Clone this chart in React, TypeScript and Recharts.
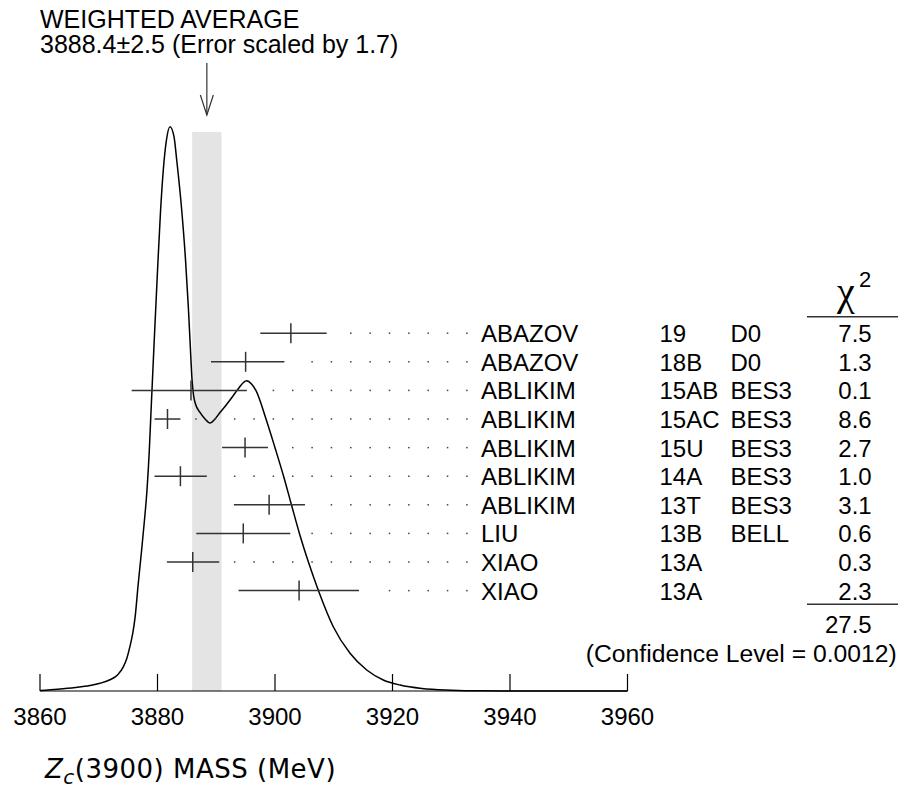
import React from 'react';
import {
  ComposedChart,
  Line,
  Scatter,
  XAxis,
  YAxis,
  ReferenceArea,
  ReferenceLine,
  ErrorBar,
} from 'recharts';

// ---------------- data ----------------
const authors = ['ABAZOV', 'ABAZOV', 'ABLIKIM', 'ABLIKIM', 'ABLIKIM', 'ABLIKIM', 'ABLIKIM', 'LIU', 'XIAO', 'XIAO'];
const refs = ['19', '18B', '15AB', '15AC', '15U', '14A', '13T', '13B', '13A', '13A'];
const experiments = ['D0', 'D0', 'BES3', 'BES3', 'BES3', 'BES3', 'BES3', 'BELL', '', ''];
const masses = [3902.7, 3895.0, 3885.7, 3881.7, 3894.9, 3883.9, 3899.0, 3894.6, 3886.0, 3904.1];
const errLow = [5.2, 5.9, 10.1, 2.2, 3.9, 4.4, 6.0, 8.0, 4.4, 10.3];
const errHigh = [6.1, 6.6, 9.5, 2.2, 3.9, 4.5, 6.1, 8.0, 4.5, 10.2];
const chiSquares = ['7.5', '1.3', '0.1', '8.6', '2.7', '1.0', '3.1', '0.6', '0.3', '2.3'];
const chiSquareTotal = '27.5';
const confidenceLevel = '0.0012';

const averageValue = 3888.4;
const averageError = 2.5;
const errorScale = 1.7;

const massTicks = [3860, 3880, 3900, 3920, 3940, 3960];

// ideogram curve (relative height)
const curveMass = [
  3860.0, 3863.0, 3866.0, 3868.5, 3870.2, 3872.0, 3873.2, 3874.2, 3874.8, 3875.3,
  3875.8, 3876.2, 3876.7, 3877.3, 3877.8, 3878.2, 3878.6, 3878.9, 3879.4, 3880.0,
  3880.5, 3881.0, 3881.5, 3882.13, 3882.81, 3883.27, 3884.12, 3884.77, 3885.24, 3885.58,
  3885.87, 3886.13, 3886.47, 3887.23, 3888.09, 3888.94, 3889.79, 3890.64, 3891.49, 3892.34,
  3893.28, 3894.04, 3894.64, 3895.15, 3896.0, 3896.77, 3898.47, 3900.0, 3901.45, 3902.81,
  3904.17, 3905.7, 3907.4, 3909.92, 3912.77, 3915.61, 3918.43, 3921.28, 3925.0, 3930.0,
  3935.0, 3945.0, 3960.0,
];
const curveDensity = [
  0.0009, 0.0031, 0.006, 0.0094, 0.0131, 0.0196, 0.0273, 0.0415, 0.0563, 0.0756,
  0.099, 0.1268, 0.1809, 0.2406, 0.2935, 0.3413, 0.4096, 0.4778, 0.5887, 0.7167,
  0.8157, 0.8908, 0.9386, 0.963, 0.9459, 0.9061, 0.8208, 0.7355, 0.657, 0.5887,
  0.5324, 0.5051, 0.4898, 0.4753, 0.4642, 0.4573, 0.4642, 0.4753, 0.4855, 0.4966,
  0.5094, 0.5196, 0.5265, 0.5294, 0.5239, 0.5125, 0.4642, 0.4152, 0.3669, 0.3174,
  0.2684, 0.2196, 0.1712, 0.1097, 0.0643, 0.0358, 0.0188, 0.0102, 0.0043, 0.0014,
  0.0003, 0, 0,
];

// ---------------- layout / style ----------------
const W = 899;
const H = 791;
const MARGIN = { top: 105, right: 36.5, bottom: 70, left: 40 };
const X_DOMAIN: [number, number] = [3860, 4000];
const ROW_DOMAIN: [number, number] = [-7.98, 12.51];
const BAND_TOP = 0.954;
const ARROW_TIP = 0.983;
const FONT = '"Liberation Sans", Arial, Helvetica, sans-serif';
const COL = { author: 481, ref: 659.5, exp: 730.5, chi: 871.7 };
const DOT_START = 3886.55;
const DOT_STEP = 3.294;
const DOT_END = 3932.8;
const DOT_GAP = 2.2;
const INK = '#000';
const BAR = '#333';

const curveData = curveMass.map((x, i) => ({ x, d: curveDensity[i] }));
const rowData = masses.map((m, i) => ({
  x: m,
  row: i,
  err: [errLow[i], errHigh[i]],
  author: authors[i],
  ref: refs[i],
  exp: experiments[i],
  chi: chiSquares[i],
}));
const dotData: { x: number; row: number }[] = [];
masses.forEach((m, i) => {
  for (let k = 0; DOT_START + k * DOT_STEP <= DOT_END; k++) {
    const x = DOT_START + k * DOT_STEP;
    if (x >= m + errHigh[i] + DOT_GAP) dotData.push({ x, row: i });
  }
});
const arrowData = [{ x: averageValue, d: ARROW_TIP }];

// ---------------- shapes ----------------
const MassTick = (props: any) => {
  const { x, y, payload } = props;
  return (
    <g>
      <line x1={x} x2={x} y1={y} y2={y - 17} stroke={INK} strokeWidth={1.2} />
      <text x={x} y={y + 34} textAnchor="middle" fontSize={24} fontFamily={FONT} fill={INK}>
        {payload.value}
      </text>
    </g>
  );
};

const LeaderDot = (props: any) => {
  const { cx, cy } = props;
  return <rect x={cx - 0.75} y={cy - 0.75} width={1.5} height={1.5} fill="#444" />;
};

const RowMark = (props: any) => {
  const { cx, cy } = props;
  const d = props.payload ?? props;
  const ty = cy + 9;
  return (
    <g>
      <line x1={cx} x2={cx} y1={cy - 10} y2={cy + 10} stroke={BAR} strokeWidth={1.5} />
      <text x={COL.author} y={ty} fontSize={24} fontFamily={FONT} fill={INK}>{d.author}</text>
      <text x={COL.ref} y={ty} fontSize={24} fontFamily={FONT} fill={INK}>{d.ref}</text>
      <text x={COL.exp} y={ty} fontSize={24} fontFamily={FONT} fill={INK}>{d.exp}</text>
      <text x={COL.chi} y={ty} textAnchor="end" fontSize={24} fontFamily={FONT} fill={INK}>{d.chi}</text>
    </g>
  );
};

const Arrow = (props: any) => {
  const { cx, cy } = props;
  return (
    <g stroke={BAR} strokeWidth={1.2} fill="none">
      <line x1={cx} x2={cx} y1={cy - 52} y2={cy} />
      <polyline points={`${cx - 6.5},${cy - 20} ${cx},${cy} ${cx + 6.5},${cy - 20}`} />
    </g>
  );
};

export default function App() {
  return (
    <div style={{ position: 'absolute', left: 0, top: 0, width: W, height: H, background: '#fff' }}>
      <ComposedChart width={W} height={H} margin={MARGIN}>
        <XAxis
          dataKey="x"
          type="number"
          domain={X_DOMAIN}
          ticks={massTicks}
          interval={0}
          axisLine={false}
          tickLine={false}
          tickSize={0}
          tickMargin={0}
          height={30}
          tick={MassTick}
        />
        <YAxis
          yAxisId="curve"
          dataKey="d"
          type="number"
          domain={[0, 1]}
          width={0}
          tick={false}
          tickLine={false}
          axisLine={{ stroke: INK, strokeWidth: 1.2 }}
        />
        <YAxis yAxisId="rows" dataKey="row" type="number" domain={ROW_DOMAIN} reversed hide />
        <ReferenceArea
          yAxisId="curve"
          x1={averageValue - averageError}
          x2={averageValue + averageError}
          y1={0}
          y2={BAND_TOP}
          fill="#e4e4e4"
          fillOpacity={1}
          stroke="none"
        />
        <ReferenceLine
          yAxisId="curve"
          segment={[{ x: massTicks[0], y: 0 }, { x: massTicks[massTicks.length - 1], y: 0 }]}
          stroke={INK}
          strokeWidth={1.2}
        />
        <Line
          yAxisId="curve"
          data={curveData}
          dataKey="d"
          type="monotone"
          dot={false}
          activeDot={false}
          stroke={INK}
          strokeWidth={1.5}
          isAnimationActive={false}
        />
        <Scatter yAxisId="rows" data={dotData} dataKey="row" shape={LeaderDot} isAnimationActive={false} />
        <Scatter yAxisId="rows" data={rowData} dataKey="row" shape={RowMark} isAnimationActive={false}>
          <ErrorBar dataKey="err" direction="x" width={0} stroke={BAR} strokeWidth={1.5} />
        </Scatter>
        <Scatter yAxisId="curve" data={arrowData} dataKey="d" shape={Arrow} isAnimationActive={false} />
      </ComposedChart>
      <svg
        width={W}
        height={H}
        style={{ position: 'absolute', left: 0, top: 0, pointerEvents: 'none' }}
        fontFamily={FONT}
        fill={INK}
      >
        <text x={40} y={28} fontSize={25}>WEIGHTED AVERAGE</text>
        <text x={40} y={53} fontSize={25}>
          {`${averageValue.toFixed(1)}\u00b1${averageError.toFixed(1)} (Error scaled by ${errorScale.toFixed(1)})`}
        </text>
        <text x={837} y={304.5} fontSize={40} fontFamily={'"Liberation Serif", "DejaVu Serif", serif'}>χ</text>
        <text x={859} y={287} fontSize={22}>2</text>
        <line x1={807} x2={898} y1={316.7} y2={316.7} stroke={BAR} strokeWidth={1.5} />
        <line x1={807} x2={898} y1={604.3} y2={604.3} stroke={BAR} strokeWidth={1.5} />
        <text x={COL.chi} y={633} textAnchor="end" fontSize={24}>{chiSquareTotal}</text>
        <text x={896.7} y={662} textAnchor="end" fontSize={24.7}>{`(Confidence Level = ${confidenceLevel})`}</text>
        <text x={45} y={778} fontSize={26} letterSpacing={0.5} fontFamily={'"DejaVu Sans", sans-serif'}>
          <tspan fontStyle="italic">Z</tspan>
          <tspan fontStyle="italic" fontSize={20} dy={6}>c</tspan>
          <tspan dy={-6}>(3900) MASS (MeV)</tspan>
        </text>
      </svg>
    </div>
  );
}
